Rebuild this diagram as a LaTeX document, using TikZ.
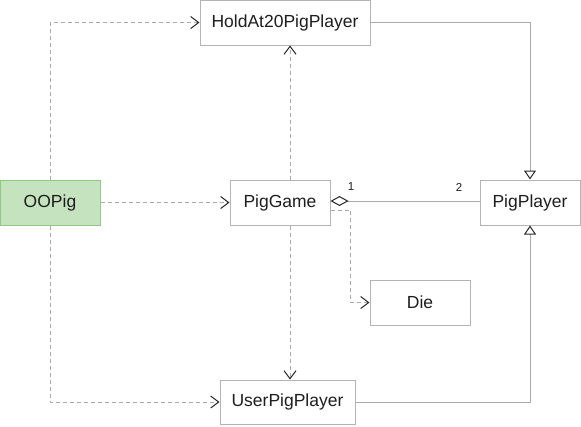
\documentclass[tikz,border=0pt]{standalone}
\usepackage{fontspec}
\setmainfont{Liberation Sans}
\usetikzlibrary{arrows.meta}
\definecolor{boxline}{RGB}{180,180,180}
\definecolor{conn}{RGB}{170,170,170}
\definecolor{tip}{RGB}{40,40,40}
\definecolor{txt}{RGB}{30,30,30}
\definecolor{greenfill}{RGB}{197,227,190}
\definecolor{greenline}{RGB}{140,204,128}
\begin{document}
\begin{tikzpicture}[x=1pt,y=-1pt,
  cls/.style={draw=boxline, line width=1pt, fill=white, rectangle, inner sep=0pt,
    minimum width=100pt, minimum height=45pt, text=txt,
    font=\fontsize{17.5}{20}\selectfont},
  mainbox/.style={cls, draw=greenline, fill=greenfill},
  dep/.style={draw=conn, line width=1pt, dash pattern=on 4pt off 3pt,
    -{Straight Barb[length=8pt,width=12pt,color=tip,line width=1pt]}},
  gen/.style={draw=conn, line width=1pt,
    -{Triangle[open,length=9pt,width=12pt,color=tip,fill=white,line width=1pt]}},
  agg/.style={draw=conn, line width=1pt,
    {Diamond[open,length=18pt,width=10pt,color=tip,fill=white,line width=1pt]}-},
  mult/.style={font=\fontsize{11.5}{13}\selectfont, text=txt, inner sep=0pt}
]
\useasboundingbox (0,0) rectangle (581,426);
\node[cls, minimum width=170pt] (hold) at (285,22.5) {HoldAt20PigPlayer};
\node[mainbox] (oopig) at (50,202.5) {OOPig};
\node[cls] (game) at (280,202.5) {PigGame};
\node[cls] (player) at (530,202.5) {PigPlayer};
\node[cls] (die) at (420,302.5) {Die};
\node[cls, minimum width=135pt, minimum height=44pt] (user) at (287.5,402) {UserPigPlayer};
\coordinate (gt) at ([xshift=10pt]game.north);
\coordinate (gb) at ([xshift=10pt]game.south);
\coordinate (gr) at ([yshift=-7.5pt]game.east);
\coordinate (ga) at ([yshift=1.5pt]game.east);
\coordinate (pa) at ([yshift=1.5pt]player.west);
\draw[dep] (oopig.north) |- (hold.west);
\draw[dep] (oopig.east) -- (game.west);
\draw[dep] (oopig.south) |- (user.west);
\draw[dep] (gt) -- (gt |- hold.south);
\draw[dep] (gb) -- (gb |- user.north);
\draw[dep] (gr) -- ++(20pt,0) |- (die.west);
\draw[agg] (ga) -- (pa);
\draw[gen] (hold.east) -| (player.north);
\draw[gen] (user.east) -| (player.south);
\node[mult] (m1) at (351,187) {1};
\node[mult] (m2) at (459,187) {2};
\end{tikzpicture}
\end{document}
